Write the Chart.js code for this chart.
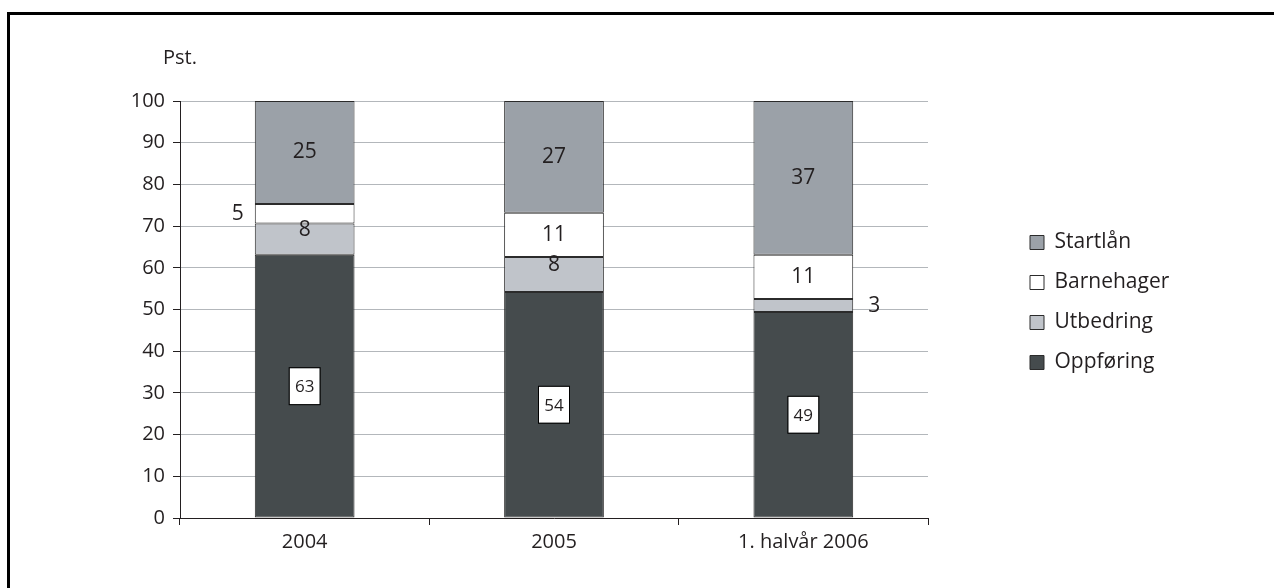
<!DOCTYPE html>
<html>
<head>
<meta charset="utf-8">
<script src="https://cdn.jsdelivr.net/npm/chart.js@4.4.0/dist/chart.umd.min.js"></script>
<style>
  html, body { margin: 0; padding: 0; background: #fff; overflow: hidden; }
  #wrap { position: relative; width: 1274px; height: 588px; }
  #frame { position: absolute; left: 7px; top: 12px; width: 1300px; height: 600px;
           border-left: 3px solid #000; border-top: 3px solid #000; }
  canvas { position: absolute; left: 0; top: 0; }
</style>
</head>
<body>
<div id="wrap">
  <div id="frame"></div>
  <canvas id="chart" width="1274" height="588"></canvas>
</div>
<script>
// values in percent
const categories = ['2004', '2005', '1. halvår 2006']
const oppforing = [63.1, 54.2, 49.4]
const utbedring = [7.5, 8.4, 3.1]
const barnehager = [4.7, 10.6, 10.6]
const startlan = [24.7, 26.8, 36.9]

const FONT = '"Open Sans", "Noto Sans", sans-serif'
const TEXT = '#231f20'
const colors = {
    oppforing: '#454b4d',
    utbedring: '#c0c4ca',
    barnehager: '#ffffff',
    startlan: '#9ba1a8',
    edge: '#2b2b2b',
    grid: '#b3b7bb'
}

// legend sits well to the right of the plot, leave a gap
const legendGap = {
    id: 'legendGap',
    beforeInit(chart) {
        const fit = chart.legend.fit
        chart.legend.fit = function () {
            fit.call(this)
            this.width = 346
        }
    },
    afterLayout(chart) {
        chart.legend.left += 83
        chart.legend.right += 83
        chart.legend.top -= 42
        chart.legend.bottom -= 42
    }
}

const segmentLabels = {
    id: 'segmentLabels',
    afterDatasetsDraw(chart) {
        const ctx = chart.ctx
        ctx.save()
        ctx.textAlign = 'center'
        ctx.textBaseline = 'middle'
        chart.data.datasets.forEach((ds, di) => {
            const meta = chart.getDatasetMeta(di)
            meta.data.forEach((bar, i) => {
                const text = String(Math.round(ds.data[i]))
                const {x, y, base, width} = bar.getProps(['x', 'y', 'base', 'width'], true)
                const h = base - y
                let cx = x
                let cy = (y + base) / 2
                if (ds.label === 'Oppføring') {
                    ctx.font = `17px ${FONT}`
                    ctx.fillStyle = '#fff'
                    ctx.fillRect(cx - 15, cy - 18, 30, 36)
                    ctx.strokeStyle = '#000'
                    ctx.lineWidth = 1
                    ctx.strokeRect(cx - 15.5, cy - 18.5, 31, 37)
                    ctx.fillStyle = TEXT
                    ctx.fillText(text, cx, cy + 1)
                    return
                }
                ctx.font = `21px ${FONT}`
                ctx.fillStyle = TEXT
                if (h < 24) {
                    if (ds.label === 'Barnehager') cx = x - width / 2 - 17
                    else cx = x + width / 2 + 21
                } else if (ds.label === 'Utbedring') {
                    cy -= 9
                }
                ctx.fillText(text, cx, cy)
            })
        })
        ctx.restore()
    },
    afterDraw(chart) {
        const ctx = chart.ctx
        ctx.save()
        ctx.font = `20px ${FONT}`
        ctx.fillStyle = TEXT
        ctx.textAlign = 'left'
        ctx.textBaseline = 'middle'
        ctx.fillText('Pst.', chart.chartArea.left - 17, chart.chartArea.top - 43)
        ctx.restore()
    }
}

const seg = (label, data, color) => ({
    label: label,
    data: data,
    backgroundColor: color,
    borderColor: colors.edge,
    borderWidth: 1,
    borderSkipped: false,
    barPercentage: 0.4,
    categoryPercentage: 1
})

new Chart(document.getElementById('chart'), {
    type: 'bar',
    data: {
        labels: categories,
        datasets: [
            seg('Oppføring', oppforing, colors.oppforing),
            seg('Utbedring', utbedring, colors.utbedring),
            seg('Barnehager', barnehager, colors.barnehager),
            seg('Startlån', startlan, colors.startlan)
        ]
    },
    options: {
        responsive: false,
        animation: false,
        devicePixelRatio: 1,
        layout: {padding: {top: 101, left: 0, right: 0, bottom: 0}},
        plugins: {
            legend: {
                position: 'right',
                reverse: true,
                labels: {
                    boxWidth: 14,
                    boxHeight: 14,
                    padding: 19,
                    color: TEXT,
                    font: {family: FONT, size: 21}
                }
            },
            tooltip: {enabled: false}
        },
        scales: {
            x: {
                stacked: true,
                afterFit: (scale) => { scale.height = 70 },
                grid: {
                    offset: true,
                    drawOnChartArea: true,
                    color: (c) => c.index === categories.length ? colors.grid : 'rgba(0,0,0,0)',
                    tickColor: TEXT,
                    tickLength: 7
                },
                border: {color: TEXT, width: 1},
                ticks: {
                    color: TEXT,
                    padding: 5,
                    font: {family: FONT, size: 20}
                }
            },
            y: {
                stacked: true,
                min: 0,
                max: 100,
                afterFit: (scale) => { scale.width = 180 },
                grid: {
                    color: colors.grid,
                    tickColor: TEXT,
                    tickLength: 7
                },
                border: {color: TEXT, width: 1},
                ticks: {
                    stepSize: 10,
                    color: TEXT,
                    padding: 8,
                    font: {family: FONT, size: 20}
                }
            }
        }
    },
    plugins: [legendGap, segmentLabels]
})
</script>
</body>
</html>
